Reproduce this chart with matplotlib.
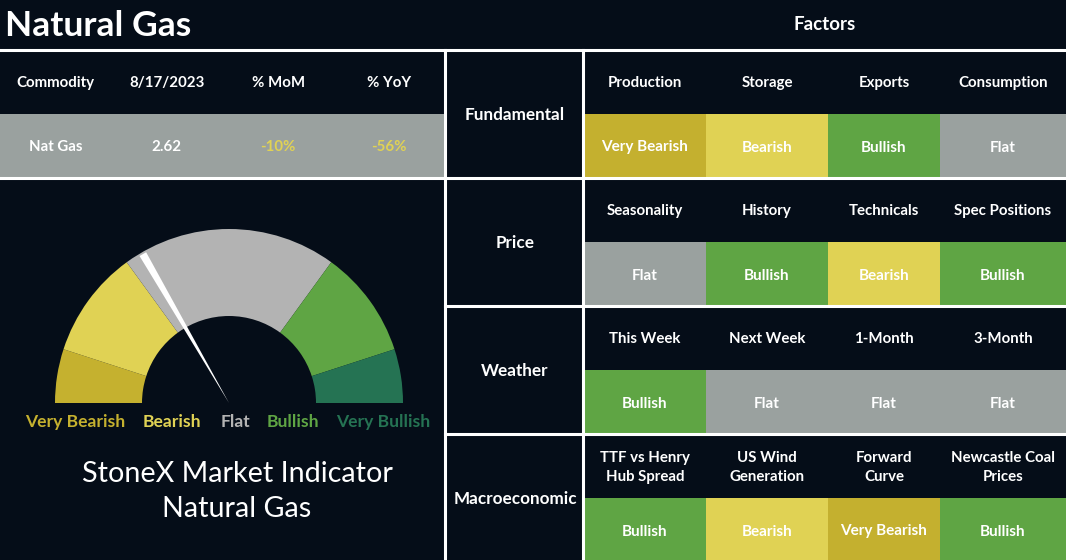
import numpy as np
import matplotlib
matplotlib.use("Agg")
import matplotlib.pyplot as plt
from matplotlib.patches import Rectangle, Wedge

plt.rcParams['font.family'] = ['Lato', 'DejaVu Sans']

# ---- data ----
table_headers = ["Commodity", "8/17/2023", "% MoM", "% YoY"]
table_values = ["Nat Gas", "2.62", "-10%", "-56%"]

categories = ["Fundamental", "Price", "Weather", "Macroeconomic"]
factors = [
    ["Production", "Storage", "Exports", "Consumption"],
    ["Seasonality", "History", "Technicals", "Spec Positions"],
    ["This Week", "Next Week", "1-Month", "3-Month"],
    ["TTF vs Henry\nHub Spread", "US Wind\nGeneration", "Forward\nCurve", "Newcastle Coal\nPrices"],
]
signals = [
    ["Very Bearish", "Bearish", "Bullish", "Flat"],
    ["Flat", "Bullish", "Bearish", "Bullish"],
    ["Bullish", "Flat", "Flat", "Flat"],
    ["Bullish", "Bearish", "Very Bearish", "Bullish"],
]

gauge_levels = ["Very Bearish", "Bearish", "Flat", "Bullish", "Very Bullish"]
gauge_shares = [10, 20, 40, 20, 10]
needle_value = 33.3   # percent along the gauge, left to right

# ---- styles ----
bg = "#050d18"
cell_colors = {"Very Bearish": "#c4b02f", "Bearish": "#e0d254", "Flat": "#9aa19f",
               "Bullish": "#5fa544", "Very Bullish": "#257353"}
gauge_colors = ["#c5b12f", "#e0d254", "#b3b3b3", "#5fa544", "#257353"]

fig = plt.figure(figsize=(10.66, 5.6), dpi=100, facecolor=bg)
ax = fig.add_axes([0, 0, 1, 1])
ax.set_xlim(0, 1066)
ax.set_ylim(560, 0)
ax.axis("off")
ax.set_facecolor(bg)


def label(x, y, s, size, color="white", weight="bold", ha="center"):
    # y is the visual middle of capitals; place by baseline so rows line up
    lines = s.split("\n")
    step = size * 1.75
    top = y - step * (len(lines) - 1) / 2
    for k, line in enumerate(lines):
        base = top + k * step + size * 100 / 72 * 0.36
        ax.text(x, base, line, color=color, fontsize=size, fontweight=weight,
                ha=ha, va="baseline")


# ---- title ----
label(5, 23, "Natural Gas", 25.5, ha="left")
label(825, 23, "Factors", 13.5)

# ---- left table ----
col_w = 445 / 4
ax.add_patch(Rectangle((0, 114), 445, 64, color=cell_colors["Flat"], lw=0))
for i, (h, v) in enumerate(zip(table_headers, table_values)):
    cx = col_w * (i + 0.5)
    label(cx, 82, h, 10.8)
    label(cx, 146, v, 10.8, color="#e0d254" if v.startswith("-") else "white")

# ---- right grid ----
xs = [584, 706, 828, 940, 1066]
row_h = 128
for r, cat in enumerate(categories):
    y0 = 50 + r * row_h
    label(515, y0 + 64, cat, 12.3)
    for c in range(4):
        cx = (xs[c] + xs[c + 1]) / 2
        label(cx, y0 + 32, factors[r][c], 10.8)
        ax.add_patch(Rectangle((xs[c], y0 + 64), xs[c + 1] - xs[c], 64,
                               color=cell_colors[signals[r][c]], lw=0))
        label(cx, y0 + 96, signals[r][c], 11)

# white grid lines
lw = 2.2
ax.plot([0, 1066], [49.5, 49.5], color="white", lw=lw)
ax.plot([0, 445], [178, 178], color="white", lw=lw)
for y in [178, 306, 434]:
    ax.plot([445, 1066], [y, y], color="white", lw=lw)
ax.plot([445, 445], [50, 560], color="white", lw=lw)
ax.plot([583, 583], [50, 560], color="white", lw=lw)

# ---- gauge ----
gc = (229, 403)
r_out, r_in = 174, 87
edges = np.concatenate([[0], np.cumsum(gauge_shares)]) / sum(gauge_shares) * 180
for i in range(len(gauge_shares)):
    # visual angle a (from left) -> data angle (y axis inverted)
    a1, a2 = 180 - edges[i], 180 - edges[i + 1]
    ax.add_patch(Wedge(gc, r_out, 360 - a1, 360 - a2, width=r_out - r_in,
                       color=gauge_colors[i], lw=0))

# needle
ang = np.deg2rad(180 - needle_value / 100 * 180)
perp = ang + np.pi / 2
bx, by = gc[0] + 172 * np.cos(ang), gc[1] - 172 * np.sin(ang)
hw = 3.8
ax.fill([gc[0], bx + hw * np.cos(perp), bx - hw * np.cos(perp)],
        [gc[1], by - hw * np.sin(perp), by + hw * np.sin(perp)], color="white", lw=0)

label_x = [75, 172, 235, 293, 383]
for lab, col, x in zip(gauge_levels, gauge_colors, label_x):
    label(x, 421, lab, 12.6, color=col)

label(237, 472, "StoneX Market Indicator", 20.7, weight="normal")
label(237, 507, "Natural Gas", 20.7, weight="normal")

fig.savefig("out.png", dpi=100, facecolor=bg)
